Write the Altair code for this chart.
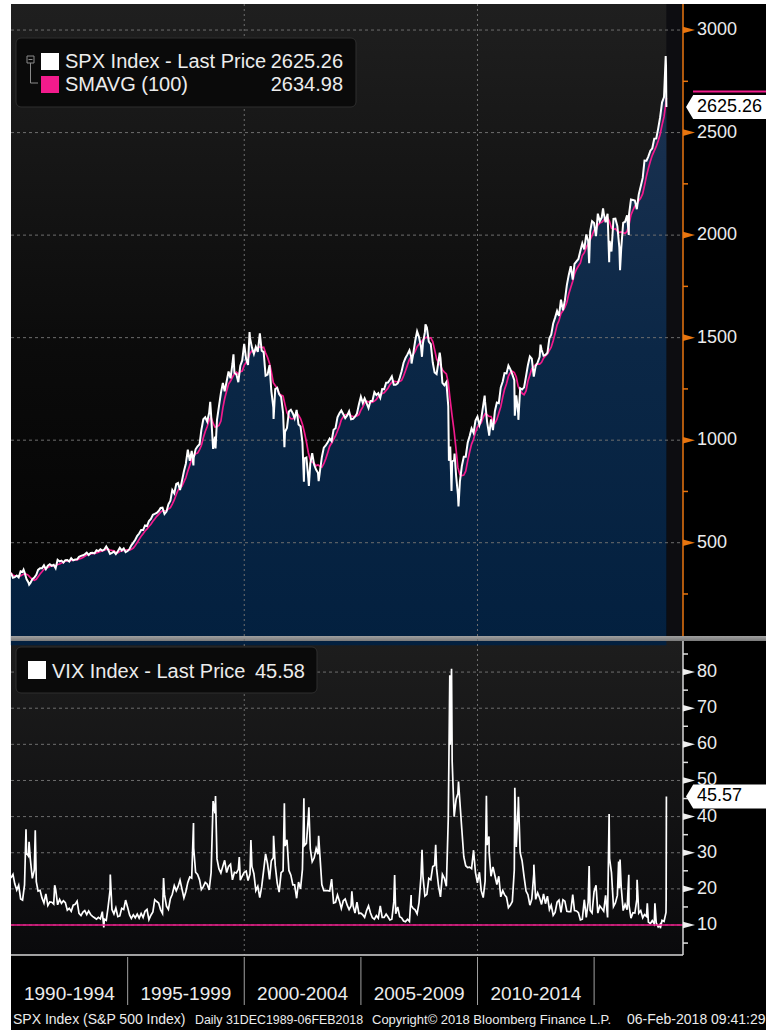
import altair as alt
import pandas as pd

# ---------------- data ----------------
# S&P 500 month-end closes, Jan 1990 .. Dec 1999
spx_1990s = [
    329.1, 331.9, 339.9, 330.8, 361.2, 358.0, 356.2, 322.6, 306.1, 304.0, 322.2, 330.2,
    343.9, 367.1, 375.2, 375.3, 389.8, 371.2, 387.8, 395.4, 387.9, 392.5, 375.2, 417.1,
    408.8, 412.7, 403.7, 414.9, 415.4, 408.1, 424.2, 414.0, 417.8, 418.7, 431.4, 435.7,
    438.8, 443.4, 451.7, 440.2, 450.2, 450.5, 448.1, 463.6, 458.9, 467.8, 461.8, 466.5,
    481.6, 467.1, 445.8, 450.9, 456.5, 444.3, 458.3, 475.5, 462.7, 472.4, 453.7, 459.3,
    470.4, 487.4, 500.7, 514.7, 533.4, 544.8, 562.1, 561.9, 584.4, 581.5, 605.4, 615.9,
    636.0, 640.4, 645.5, 654.2, 669.1, 670.6, 639.9, 651.9, 687.3, 705.3, 757.0, 740.7,
    786.2, 790.8, 757.1, 801.3, 848.3, 885.1, 954.3, 899.5, 947.3, 914.6, 955.4, 970.4,
    980.3, 1049.3, 1101.8, 1111.8, 1090.8, 1133.8, 1120.7, 957.3, 1017.0, 1098.7, 1163.6, 1229.2,
    1279.6, 1238.3, 1286.4, 1335.2, 1301.8, 1372.7, 1328.7, 1320.4, 1282.7, 1362.9, 1389.0, 1469.3,
]
spx_2000s = [
    1394.5, 1366.4, 1498.6, 1452.4, 1420.6, 1454.6, 1430.8, 1517.7, 1436.5, 1429.4, 1315.2, 1320.3,
    1366.0, 1239.9, 1160.3, 1249.5, 1255.8, 1224.4, 1211.2, 1133.6, 1040.9, 1059.8, 1139.5, 1148.1,
    1130.2, 1106.7, 1147.4, 1076.9, 1067.1, 989.8, 911.6, 916.1, 815.3, 885.8, 936.3, 879.8,
    855.7, 841.2, 848.2, 916.9, 963.6, 974.5, 990.3, 1008.0, 996.0, 1050.7, 1058.2, 1111.9,
    1131.1, 1144.9, 1126.2, 1107.3, 1120.7, 1140.8, 1101.7, 1104.2, 1114.6, 1130.2, 1173.8, 1211.9,
    1181.3, 1203.6, 1180.6, 1156.9, 1191.5, 1191.3, 1234.2, 1220.3, 1228.8, 1207.0, 1249.5, 1248.3,
    1280.1, 1280.7, 1294.9, 1311.0, 1270.1, 1270.2, 1276.7, 1303.8, 1335.9, 1377.9, 1400.6, 1418.3,
    1438.2, 1406.8, 1420.9, 1482.4, 1530.6, 1503.4, 1455.3, 1474.0, 1526.8, 1549.4, 1481.1, 1468.4,
    1378.6, 1330.6, 1322.7, 1385.6, 1400.4, 1280.0, 1267.4, 1282.8, 1166.4, 968.8, 896.2, 903.3,
    825.9, 735.1, 797.9, 872.8, 919.1, 919.3, 987.5, 1020.6, 1057.1, 1036.2, 1095.6, 1115.1,
]
spx_2010s = [
    1073.9, 1104.5, 1169.4, 1186.7, 1089.4, 1030.7, 1101.6, 1049.3, 1141.2, 1183.3, 1180.6, 1257.6,
    1286.1, 1327.2, 1325.8, 1363.6, 1345.2, 1320.6, 1292.3, 1218.9, 1131.4, 1253.3, 1246.9, 1257.6,
    1312.4, 1365.7, 1408.5, 1397.9, 1310.3, 1362.2, 1379.3, 1406.6, 1440.7, 1412.2, 1416.2, 1426.2,
    1498.1, 1514.7, 1569.2, 1597.6, 1630.7, 1606.3, 1685.7, 1633.0, 1681.6, 1756.5, 1805.8, 1848.4,
    1782.6, 1859.5, 1872.3, 1883.9, 1923.6, 1960.2, 1930.7, 2003.4, 1972.3, 2018.1, 2067.6, 2058.9,
    1995.0, 2104.5, 2067.9, 2085.5, 2107.4, 2063.1, 2104.0, 1972.2, 1920.0, 2079.4, 2080.4, 2043.9,
    1940.2, 1932.2, 2059.7, 2065.3, 2096.9, 2098.9, 2173.6, 2171.0, 2168.3, 2126.2, 2198.8, 2238.8,
    2278.9, 2363.6, 2362.7, 2384.2, 2411.8, 2423.4, 2470.3, 2471.7, 2519.4, 2575.3, 2647.6, 2673.6,
    2823.8,
]
spx_first_date, spx_first_value = "1989-12-29", 353.4
spx_last_date, spx_last_value = "2018-02-06", 2625.26

# intra-month highs / lows of the daily S&P 500 line
spx_extra_dates = [
    "1990-07-16", "1990-10-11", "1997-10-27", "1998-07-17", "1998-10-08", "1999-07-16",
    "2000-03-24", "2000-09-01", "2001-04-04", "2001-09-21", "2002-07-23", "2002-10-09",
    "2003-03-11", "2007-03-05", "2007-08-15", "2007-10-09", "2008-05-19", "2008-10-10",
    "2008-11-20", "2009-01-06", "2009-03-09", "2010-04-23", "2010-07-02", "2011-08-08",
    "2011-10-03", "2012-09-14", "2014-10-15", "2015-05-21", "2015-08-25", "2016-02-11",
    "2016-06-27", "2018-01-26", "2018-02-05",
]
spx_extra_values = [
    368.9, 295.5, 877.0, 1186.8, 959.4, 1418.8,
    1527.5, 1520.8, 1103.3, 965.8, 797.7, 776.8,
    800.7, 1374.1, 1406.7, 1565.2, 1426.6, 899.2,
    752.4, 934.7, 676.5, 1217.3, 1022.6, 1119.5,
    1099.2, 1465.8, 1862.5, 2130.8, 1867.6, 1829.1,
    2000.5, 2872.9, 2648.9,
]

# VIX month-end levels
vix_1990s = [
    24.0, 21.4, 19.7, 21.0, 17.2, 16.9, 21.1, 29.9, 29.1, 28.0, 22.9, 25.2,
    22.0, 19.4, 19.6, 17.5, 16.1, 18.6, 15.4, 16.4, 16.3, 15.8, 19.9, 15.6,
    17.1, 16.0, 16.7, 16.2, 14.1, 14.6, 13.8, 15.5, 15.7, 16.6, 13.2, 12.6,
    13.6, 14.0, 12.9, 13.9, 12.9, 12.4, 12.0, 11.6, 12.1, 11.7, 13.7, 11.6,
    11.3, 14.9, 19.6, 14.3, 13.1, 14.7, 12.3, 12.5, 14.6, 14.3, 16.9, 14.9,
    12.8, 11.8, 12.8, 12.0, 13.0, 11.9, 13.2, 12.1, 13.8, 14.3, 11.5, 12.7,
    13.6, 17.0, 16.5, 16.1, 14.2, 13.2, 18.4, 15.2, 14.3, 17.3, 18.5, 20.9,
    19.5, 20.6, 22.4, 20.0, 17.5, 19.2, 21.8, 23.3, 23.0, 31.3, 24.6, 24.0,
    22.5, 19.8, 20.6, 21.8, 21.3, 19.7, 24.5, 44.3, 40.9, 28.3, 25.6, 24.4,
    26.3, 27.9, 24.5, 26.2, 26.8, 22.5, 24.6, 24.4, 25.4, 22.4, 23.5, 24.6,
]
vix_2000s = [
    24.9, 22.3, 24.1, 26.2, 24.2, 19.5, 20.7, 17.6, 20.6, 25.2, 29.7, 26.9,
    22.6, 27.8, 28.6, 26.5, 21.6, 19.1, 24.5, 25.0, 31.9, 33.6, 25.1, 23.8,
    21.1, 21.1, 17.4, 21.9, 20.0, 25.4, 32.0, 32.6, 39.7, 31.1, 27.5, 28.6,
    31.2, 29.6, 29.2, 21.2, 19.5, 19.5, 19.5, 19.4, 22.7, 16.1, 16.3, 18.3,
    16.6, 14.6, 16.7, 17.2, 15.5, 14.3, 15.3, 15.3, 13.3, 16.3, 13.2, 13.3,
    12.8, 12.1, 14.0, 15.3, 13.3, 12.0, 11.6, 12.6, 11.9, 15.3, 12.1, 12.1,
    13.0, 12.3, 11.4, 11.6, 16.4, 13.1, 15.0, 12.3, 12.0, 11.1, 10.9, 11.6,
    11.0, 15.4, 14.6, 14.2, 13.1, 16.2, 23.5, 23.4, 18.0, 18.5, 22.9, 22.5,
    26.2, 26.5, 25.6, 20.8, 17.8, 24.0, 22.9, 20.7, 39.4, 59.9, 55.3, 40.0,
    44.8, 46.4, 44.1, 36.5, 28.9, 26.4, 25.9, 26.0, 25.6, 30.7, 24.5, 21.7,
]
vix_2010s = [
    24.6, 19.5, 17.6, 22.1, 32.1, 34.5, 23.5, 26.1, 23.7, 21.2, 23.5, 17.8,
    19.5, 18.4, 17.7, 14.8, 15.5, 16.5, 25.3, 31.6, 43.0, 30.0, 27.8, 23.4,
    19.4, 18.4, 15.5, 17.2, 24.1, 17.1, 18.9, 17.5, 15.7, 18.6, 15.9, 18.0,
    14.3, 15.5, 12.7, 13.5, 16.3, 16.9, 13.5, 17.0, 16.6, 13.8, 13.7, 13.7,
    18.4, 14.0, 13.9, 13.4, 11.4, 11.6, 17.0, 12.1, 16.3, 14.0, 13.3, 19.2,
    21.0, 13.3, 15.3, 14.6, 13.8, 18.2, 12.1, 28.4, 24.5, 15.1, 16.1, 18.2,
    20.2, 20.6, 14.0, 15.7, 14.2, 15.6, 11.9, 13.4, 13.3, 17.1, 13.3, 14.0,
    12.0, 12.9, 12.4, 10.8, 10.4, 11.2, 10.3, 10.6, 9.5, 10.2, 11.3, 11.0,
    13.5,
]
vix_first_value = 23.0

# VIX intra-month spikes and lows
vix_spike_dates = [
    "1990-08-23", "1990-10-10", "1991-01-15", "1991-11-15", "1993-12-23", "1994-04-04",
    "1996-07-16", "1997-10-28", "1998-10-08", "1999-10-15", "2000-04-14", "2001-04-04",
    "2001-09-20", "2002-07-23", "2002-10-09", "2003-03-11", "2004-08-12", "2006-06-13",
    "2007-02-27", "2007-08-16", "2008-03-17", "2008-10-24", "2008-11-20", "2009-03-09",
    "2010-05-20", "2010-07-02", "2011-08-08", "2011-10-03", "2012-06-01", "2014-10-15",
    "2015-08-24", "2016-01-20", "2016-02-11", "2016-06-27", "2016-11-04", "2017-04-13",
    "2017-08-10", "2017-11-03", "2018-02-02", "2018-02-05", "2018-02-06",
]
vix_spike_values = [
    36.5, 33.0, 36.2, 21.0, 9.3, 24.0,
    23.0, 38.2, 45.7, 28.8, 33.5, 34.7,
    43.7, 45.1, 42.6, 34.7, 19.3, 23.8,
    18.3, 30.8, 32.2, 79.1, 80.9, 49.7,
    45.8, 30.1, 48.0, 45.5, 26.7, 26.3,
    40.7, 27.6, 28.1, 23.9, 22.5, 16.0,
    16.0, 9.1, 17.3, 37.3, 45.57,
]

spx_ticks = [500, 1000, 1500, 2000, 2500, 3000]
spx_minor_ticks = [250, 750, 1250, 1750, 2250, 2750]
vix_ticks = [10, 20, 30, 40, 50, 60, 70, 80]
vix_minor_ticks = [5, 15, 25, 35, 45, 55, 65, 75, 85]
x_tick_dates = ["1995-01-01", "2000-01-01", "2005-01-01", "2010-01-01", "2015-01-01"]
x_grid_dates = ["2000-01-01", "2010-01-01"]
x_label_dates = ["1992-07-02", "1997-07-02", "2002-07-02", "2007-07-02", "2012-07-02"]
x_labels = ["1990-1994", "1995-1999", "2000-2004", "2005-2009", "2010-2014"]

# ---------------- frames ----------------
month_starts = pd.date_range("1990-01-01", periods=len(spx_1990s) + len(spx_2000s) + len(spx_2010s), freq="MS")
month_ends = [(d + pd.offsets.MonthEnd(0)).strftime("%Y-%m-%d") for d in month_starts]

spx_monthly = pd.DataFrame({
    "date": [spx_first_date] + month_ends + [spx_last_date],
    "spx": [spx_first_value] + spx_1990s + spx_2000s + spx_2010s + [spx_last_value],
})
spx_daily = pd.concat([
    spx_monthly,
    pd.DataFrame({"date": spx_extra_dates, "spx": spx_extra_values}),
]).sort_values("date").reset_index(drop=True)

vix_monthly = pd.DataFrame({
    "date": [spx_first_date] + month_ends,
    "vix": [vix_first_value] + vix_1990s + vix_2000s + vix_2010s,
})
vix_daily = pd.concat([
    vix_monthly,
    pd.DataFrame({"date": vix_spike_dates, "vix": vix_spike_values}),
]).sort_values("date").reset_index(drop=True)

# ---------------- scales / style ----------------
W_PLOT = 672        # right edge of the plot panels (axis line)
TOP_BOTTOM = 632
VIX_TOP, VIX_BOTTOM = 637, 951

x_scale = alt.Scale(
    domain=[alt.DateTime(year=1989, month=12, date=31, utc=True),
            alt.DateTime(year=2018, month=10, date=24, utc=True)],
    range=[0, W_PLOT], nice=False)
top_y = alt.Scale(domain=[50, 3127], range=[631, 0], zero=False, nice=False)
vix_y = alt.Scale(domain=[1.7, 88.6], range=[VIX_BOTTOM, VIX_TOP], zero=False, nice=False)

FONT = "Liberation Sans"
ORANGE = "#e8750f"
PINK = "#f21b8c"
TXT = "#ececec"
GRID = "#6e6e6e"

one = pd.DataFrame({"a": [0]})


def px_rect(x, x2, y, y2, **mk):
    return alt.Chart(one).mark_rect(**mk).encode(
        x=alt.value(x), x2=alt.value(x2), y=alt.value(y), y2=alt.value(y2))


def px_rule(x, x2, y, y2, **mk):
    return alt.Chart(one).mark_rule(**mk).encode(
        x=alt.value(x), x2=alt.value(x2), y=alt.value(y), y2=alt.value(y2))


def px_text(x, y, txt, **mk):
    base = dict(font=FONT, baseline="middle")
    base.update(mk)
    return alt.Chart(one).mark_text(**base).encode(
        x=alt.value(x), y=alt.value(y), text=alt.value(txt))


def vgrad(stops):
    return alt.Gradient(gradient="linear", x1=0, x2=0, y1=0, y2=1,
                        stops=[alt.GradientStop(offset=o, color=c) for o, c in stops])


layers = []

# panel backgrounds
layers.append(px_rect(0, W_PLOT, 0, TOP_BOTTOM,
                      color=vgrad([(0, "#1f1f1f"), (0.55, "#0b0b0b"), (1, "#020202")])))
layers.append(px_rect(0, W_PLOT, VIX_TOP, VIX_BOTTOM,
                      color=vgrad([(0, "#1d1d1d"), (1, "#0a0a0c")])))

# region after the last data point
future = pd.DataFrame({"start": [spx_last_date], "end": ["2018-10-24"]})
layers.append(alt.Chart(future).mark_rect(color="#0d0d11").encode(
    x=alt.X("start:T", scale=x_scale, axis=None), x2="end:T",
    y=alt.value(0), y2=alt.value(TOP_BOTTOM)))

# SPX area
layers.append(alt.Chart(spx_daily).mark_area(
    color=vgrad([(0, "#1d3352"), (0.5, "#0b2746"), (1, "#03203f")]), interpolate="linear"
).encode(
    x=alt.X("date:T", scale=x_scale, axis=None),
    y=alt.Y("spx:Q", scale=top_y, axis=None),
    y2=alt.value(TOP_BOTTOM),
))

# panel separator
layers.append(px_rect(0, 755, TOP_BOTTOM, VIX_TOP,
                      color=vgrad([(0, "#a0a0a0"), (1, "#7a7a7a")])))

# gridlines
layers.append(alt.Chart(pd.DataFrame({"v": spx_ticks})).mark_rule(
    color=GRID, strokeDash=[3, 3], strokeWidth=1).encode(
    y=alt.Y("v:Q", scale=top_y, axis=None), x=alt.value(0), x2=alt.value(W_PLOT)))
layers.append(alt.Chart(pd.DataFrame({"v": vix_ticks})).mark_rule(
    color=GRID, strokeDash=[3, 3], strokeWidth=1).encode(
    y=alt.Y("v:Q", scale=vix_y, axis=None), x=alt.value(0), x2=alt.value(W_PLOT)))
layers.append(alt.Chart(pd.DataFrame({"d": x_grid_dates})).mark_rule(
    color=GRID, strokeDash=[2, 3], strokeWidth=1).encode(
    x=alt.X("d:T", scale=x_scale, axis=None), y=alt.value(0), y2=alt.value(VIX_BOTTOM)))

# SMA(100) and SPX lines
layers.append(alt.Chart(spx_monthly).transform_window(
    sma="mean(spx)", frame=[-4, 0], sort=[alt.SortField("date")]
).mark_line(color=PINK, strokeWidth=1.7).encode(
    x=alt.X("date:T", scale=x_scale, axis=None),
    y=alt.Y("sma:Q", scale=top_y, axis=None)))
layers.append(alt.Chart(spx_daily).mark_line(color="white", strokeWidth=2).encode(
    x=alt.X("date:T", scale=x_scale, axis=None),
    y=alt.Y("spx:Q", scale=top_y, axis=None)))

# VIX line and 10-level line
layers.append(alt.Chart(vix_daily).mark_line(color="white", strokeWidth=1.7).encode(
    x=alt.X("date:T", scale=x_scale, axis=None),
    y=alt.Y("vix:Q", scale=vix_y, axis=None)))
layers.append(alt.Chart(pd.DataFrame({"v": [10]})).mark_rule(color=PINK, strokeWidth=1.5).encode(
    y=alt.Y("v:Q", scale=vix_y, axis=None), x=alt.value(0), x2=alt.value(W_PLOT)))

# ---- right axes ----
TRI = "M-1,-0.55L1,0L-1,0.55Z"
# top (orange)
layers.append(px_rule(W_PLOT, W_PLOT, 0, TOP_BOTTOM, color=ORANGE, strokeWidth=1.5))
layers.append(alt.Chart(pd.DataFrame({"v": spx_minor_ticks})).mark_rule(color=ORANGE, strokeWidth=1.5).encode(
    y=alt.Y("v:Q", scale=top_y, axis=None), x=alt.value(W_PLOT), x2=alt.value(W_PLOT + 5)))
layers.append(alt.Chart(pd.DataFrame({"v": spx_ticks})).mark_point(
    shape=TRI, filled=True, size=144, color=ORANGE, opacity=1, strokeWidth=0).encode(
    y=alt.Y("v:Q", scale=top_y, axis=None), x=alt.value(W_PLOT + 6)))
layers.append(alt.Chart(pd.DataFrame({"v": spx_ticks})).mark_text(
    font=FONT, fontSize=18, color=TXT, align="left", baseline="middle").encode(
    y=alt.Y("v:Q", scale=top_y, axis=None), x=alt.value(W_PLOT + 14), text="v:Q"))
# bottom (white)
layers.append(px_rule(W_PLOT, W_PLOT, VIX_TOP, VIX_BOTTOM, color="#d6d6d6", strokeWidth=1.5))
layers.append(px_rule(0, W_PLOT, VIX_BOTTOM, VIX_BOTTOM, color="#d6d6d6", strokeWidth=1.5))
layers.append(alt.Chart(pd.DataFrame({"v": vix_minor_ticks})).mark_rule(color="#e0e0e0", strokeWidth=1.5).encode(
    y=alt.Y("v:Q", scale=vix_y, axis=None), x=alt.value(W_PLOT), x2=alt.value(W_PLOT + 5)))
layers.append(alt.Chart(pd.DataFrame({"v": vix_ticks})).mark_point(
    shape=TRI, filled=True, size=144, color="#eeeeee", opacity=1, strokeWidth=0).encode(
    y=alt.Y("v:Q", scale=vix_y, axis=None), x=alt.value(W_PLOT + 6)))
layers.append(alt.Chart(pd.DataFrame({"v": vix_ticks})).mark_text(
    font=FONT, fontSize=18, color=TXT, align="left", baseline="middle").encode(
    y=alt.Y("v:Q", scale=vix_y, axis=None), x=alt.value(W_PLOT + 14), text="v:Q"))

# last-price tags
TAG = "M-1,0L-0.82,-0.3L1,-0.3L1,0.3L-0.82,0.3Z"
layers.append(alt.Chart(pd.DataFrame({"v": [2700]})).mark_rule(color=PINK, strokeWidth=2).encode(
    y=alt.Y("v:Q", scale=top_y, axis=None), x=alt.value(W_PLOT + 10), x2=alt.value(755)))
layers.append(alt.Chart(pd.DataFrame({"v": [spx_last_value]})).mark_point(
    shape=TAG, filled=True, size=6400, color="white", opacity=1, strokeWidth=0).encode(
    y=alt.Y("v:Q", scale=top_y, axis=None), x=alt.value(715)))
layers.append(alt.Chart(pd.DataFrame({"v": [spx_last_value]})).mark_text(
    font=FONT, fontSize=18, color="black", align="left", baseline="middle").encode(
    y=alt.Y("v:Q", scale=top_y, axis=None), x=alt.value(686), text=alt.Text("v:Q", format=".2f")))
layers.append(alt.Chart(pd.DataFrame({"v": [45.57]})).mark_point(
    shape=TAG, filled=True, size=6400, color="white", opacity=1, strokeWidth=0).encode(
    y=alt.Y("v:Q", scale=vix_y, axis=None), x=alt.value(715)))
layers.append(alt.Chart(pd.DataFrame({"v": [45.57]})).mark_text(
    font=FONT, fontSize=18, color="black", align="left", baseline="middle").encode(
    y=alt.Y("v:Q", scale=vix_y, axis=None), x=alt.value(686), text=alt.Text("v:Q", format=".2f")))

# ---- legends ----
layers.append(px_rect(5, 345, 34, 103, fill="#0a0a0a", stroke="#2e2e2e", strokeWidth=1, cornerRadius=5))
layers.append(px_rect(16, 23, 52, 59, fill="#0a0a0a", stroke="#8a8a8a", strokeWidth=1))
layers.append(px_rule(17.5, 21.5, 55.5, 55.5, color="#8a8a8a", strokeWidth=1))
layers.append(px_rule(19.5, 19.5, 59, 79, color="#8a8a8a", strokeWidth=1))
layers.append(px_rule(19.5, 27, 79, 79, color="#8a8a8a", strokeWidth=1))
layers.append(px_rect(30, 48, 49, 66, color="white"))
layers.append(px_rect(30, 48, 72, 89, color=PINK))
layers.append(px_text(54, 58, "SPX Index - Last Price", fontSize=20, color=TXT, align="left"))
layers.append(px_text(332, 58, "2625.26", fontSize=20, color=TXT, align="right"))
layers.append(px_text(54, 81, "SMAVG (100)", fontSize=20, color=TXT, align="left"))
layers.append(px_text(332, 81, "2634.98", fontSize=20, color=TXT, align="right"))

layers.append(px_rect(5, 306, 643, 689, fill="#0a0a0a", stroke="#2e2e2e", strokeWidth=1, cornerRadius=5))
layers.append(px_rect(17, 35, 657, 675, color="white"))
layers.append(px_text(41, 668, "VIX Index - Last Price", fontSize=20, color=TXT, align="left"))
layers.append(px_text(294, 668, "45.58", fontSize=20, color=TXT, align="right"))

# ---- bottom time axis ----
layers.append(alt.Chart(pd.DataFrame({"d": x_tick_dates})).mark_rule(color="#a0a0a0", strokeWidth=1).encode(
    x=alt.X("d:T", scale=x_scale, axis=None), y=alt.value(VIX_BOTTOM + 2), y2=alt.value(1001)))
layers.append(alt.Chart(pd.DataFrame({"d": x_label_dates, "t": x_labels})).mark_text(
    font=FONT, fontSize=19, color=TXT, align="center", baseline="middle").encode(
    x=alt.X("d:T", scale=x_scale, axis=None), y=alt.value(990), text="t:N"))

# ---- footer ----
layers.append(px_text(2, 1016, "SPX Index (S&P 500 Index)", fontSize=14, color=TXT, align="left"))
layers.append(px_text(184, 1016, "Daily 31DEC1989-06FEB2018", fontSize=12.4, color=TXT, align="left"))
layers.append(px_text(361, 1016, "Copyright\u00a9 2018 Bloomberg Finance L.P.", fontSize=13, color=TXT, align="left"))
layers.append(px_text(616, 1016, "06-Feb-2018 09:41:29", fontSize=14, color=TXT, align="left"))

chart = alt.layer(*layers).resolve_scale(y="independent").properties(
    width=755, height=1026,
    padding={"left": 11, "top": 4, "right": 15, "bottom": 0},
    background="white",
    autosize=alt.AutoSizeParams(type="none"),
).configure_view(fill="black", stroke=None)

chart.save("out.html", embed_options={"renderer": "svg", "actions": False})
